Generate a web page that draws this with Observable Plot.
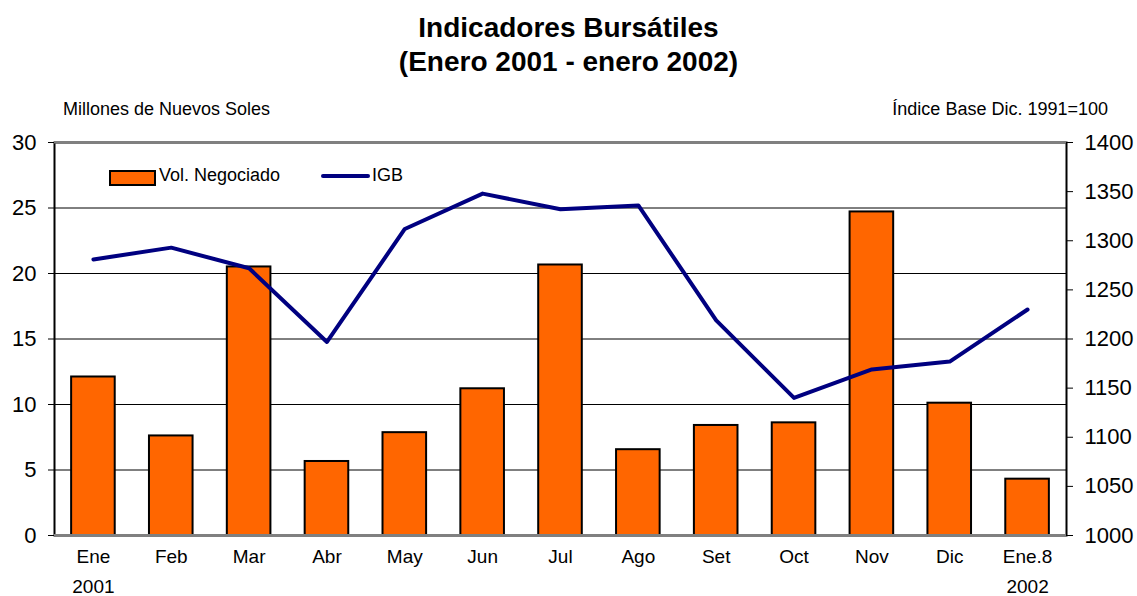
<!DOCTYPE html>
<html>
<head>
<meta charset="utf-8">
<script src="https://cdn.jsdelivr.net/npm/d3@7"></script>
<script src="https://cdn.jsdelivr.net/npm/@observablehq/plot@0.6"></script>
<style>
  body { margin: 0; background: #fff; font-family: "Liberation Sans", Arial, sans-serif; }
  #wrap { position: relative; width: 1137px; height: 596px; }
  #wrap svg { position: absolute; left: 0; top: 0; }
  .abs { position: absolute; white-space: nowrap; color: #000; line-height: 1.15; }
  .title { left: 0; width: 1137px; text-align: center; font-weight: bold; font-size: 28px; }
</style>
</head>
<body>
<div id="wrap"></div>
<script>
const months = ["Ene","Feb","Mar","Abr","May","Jun","Jul","Ago","Set","Oct","Nov","Dic","Ene.8"];
const volumen = [12.1, 7.6, 20.5, 5.65, 7.85, 11.2, 20.65, 6.55, 8.4, 8.6, 24.7, 10.1, 4.3];
const igb = [1281, 1293, 1272, 1197, 1312, 1348, 1332, 1336, 1219, 1140, 1169, 1177, 1230];
const leftTicks = [0, 5, 10, 15, 20, 25, 30];
const rightTicks = [1000, 1050, 1100, 1150, 1200, 1250, 1300, 1350, 1400];
const years = [{m: "Ene", y: "2001"}, {m: "Ene.8", y: "2002"}];

const toLeft = v => (v - 1000) / 400 * 30;
const toRight = v => String(Math.round(1000 + v / 30 * 400));

const bars = months.map((m, i) => ({m, v: volumen[i]}));
const line = months.map((m, i) => ({m, v: toLeft(igb[i])}));

const chart = Plot.plot({
  width: 1137,
  height: 596,
  marginLeft: 54,
  marginRight: 71,
  marginTop: 142,
  marginBottom: 61,
  style: {fontFamily: "Liberation Sans, Arial, sans-serif", background: "transparent", color: "#000"},
  x: {domain: months, paddingInner: 0.44, paddingOuter: 0.22, round: false, label: null},
  y: {domain: [0, 30], label: null},
  marks: [
    Plot.ruleY([5, 10, 15, 20, 25], {stroke: "#000", strokeWidth: 1}),
    Plot.barY(bars, {x: "m", y: "v", fill: "#FF6600", stroke: "#000", strokeWidth: 2}),
    Plot.frame({stroke: "#000", strokeWidth: 2}),
    Plot.ruleY([30], {stroke: "#808080", strokeWidth: 2}),
    Plot.ruleY([0], {stroke: "#808080", strokeWidth: 3}),
    Plot.line(line, {x: "m", y: "v", stroke: "#000080", strokeWidth: 4}),
    Plot.axisY(leftTicks, {anchor: "left", tickSize: 6, tickPadding: 12, fontSize: 22, label: null}),
    Plot.axisY(rightTicks.map(toLeft), {anchor: "right", tickSize: 6, tickPadding: 12, fontSize: 22, tickFormat: toRight, label: null}),
    Plot.axisX({tickSize: 0, tickPadding: 14, fontSize: 19, label: null}),
    Plot.text(years, {x: "m", y: () => 0, text: "y", dy: 51, fontSize: 19, lineAnchor: "middle"})
  ]
});

const wrap = document.getElementById("wrap");
wrap.appendChild(chart);

function addDiv(cls, html, style) {
  const d = document.createElement("div");
  d.className = "abs " + cls;
  d.innerHTML = html;
  Object.assign(d.style, style);
  wrap.appendChild(d);
  return d;
}
addDiv("title", "Indicadores Bursátiles", {top: "12px"});
addDiv("title", "(Enero 2001 - enero 2002)", {top: "46px"});
addDiv("", "Millones de Nuevos Soles", {left: "63px", top: "99px", fontSize: "18px"});
addDiv("", "Índice Base Dic. 1991=100", {right: "29px", top: "99px", fontSize: "18px"});
// legend
addDiv("", "", {left: "109px", top: "170px", width: "43px", height: "12px", background: "#FF6600", border: "2px solid #000", boxSizing: "content-box"});
addDiv("", "Vol. Negociado", {left: "159px", top: "165px", fontSize: "18px"});
addDiv("", "", {left: "321px", top: "174px", width: "49px", height: "4px", background: "#000080", borderRadius: "2px"});
addDiv("", "IGB", {left: "372px", top: "165px", fontSize: "18px"});
</script>
</body>
</html>
